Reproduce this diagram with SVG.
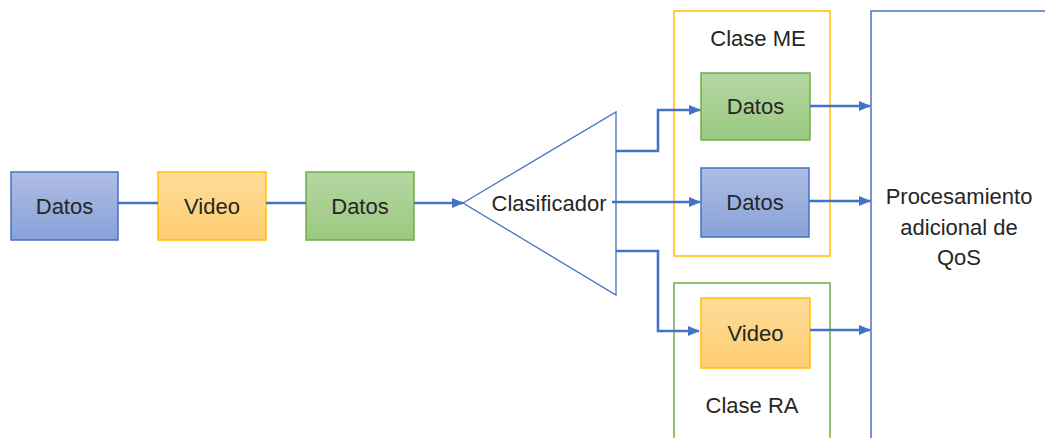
<svg xmlns="http://www.w3.org/2000/svg" width="1045" height="438" viewBox="0 0 1045 438">
<defs>
<linearGradient id="gBlue" x1="0" y1="0" x2="0" y2="1"><stop offset="0" stop-color="#aebde3"/><stop offset="1" stop-color="#88a2d8"/></linearGradient>
<linearGradient id="gYellow" x1="0" y1="0" x2="0" y2="1"><stop offset="0" stop-color="#ffdc9a"/><stop offset="1" stop-color="#fdcd6f"/></linearGradient>
<linearGradient id="gGreen" x1="0" y1="0" x2="0" y2="1"><stop offset="0" stop-color="#b5d6a3"/><stop offset="1" stop-color="#9bc980"/></linearGradient>
<marker id="arr" markerUnits="userSpaceOnUse" markerWidth="12" markerHeight="12" viewBox="0 0 12 12" refX="11" refY="6" orient="auto">
<path d="M0,1 L12,6 L0,11 Z" fill="#4472c4"/>
</marker>
<style>
.blue{fill:url(#gBlue);stroke:#4472c4;stroke-width:1.5}
.yellow{fill:url(#gYellow);stroke:#ffc000;stroke-width:1.5}
.green{fill:url(#gGreen);stroke:#70ad47;stroke-width:1.5}
.t{font-family:"Liberation Sans",Arial,sans-serif;font-size:22px;fill:#262626;text-anchor:middle;dominant-baseline:central}
.c{fill:none;stroke:#4472c4;stroke-width:2.6}
</style>
</defs>
<g id="clase-me"><rect x="674" y="11" width="156" height="245" fill="none" stroke="#ffc000" stroke-width="1.5"/><text class="t" x="758" y="38">Clase ME</text></g>
<g id="clase-ra"><rect x="674" y="283" width="156" height="170" fill="none" stroke="#70ad47" stroke-width="1.5"/><text class="t" x="752" y="405">Clase RA</text></g>
<g id="qos"><rect x="871" y="11" width="190" height="440" fill="none" stroke="#4472c4" stroke-width="1.5"/>
<text class="t" x="959" y="196">Procesamiento</text><text class="t" x="959" y="227">adicional de</text><text class="t" x="959" y="257">QoS</text></g>
<g id="n1"><rect class="blue" x="11" y="172" width="107" height="68"/><text class="t" x="64.5" y="206">Datos</text></g>
<g id="n2"><rect class="yellow" x="158" y="172" width="108" height="68"/><text class="t" x="212" y="206">Video</text></g>
<g id="n3"><rect class="green" x="306" y="172" width="108" height="68"/><text class="t" x="360" y="206">Datos</text></g>
<g id="clasificador"><polygon points="463,203 616,112 616,295" fill="none" stroke="#4472c4" stroke-width="1.3"/><text class="t" x="549" y="203">Clasificador</text></g>
<g id="me-datos1"><rect class="green" x="701" y="73" width="109" height="67"/><text class="t" x="755.5" y="106">Datos</text></g>
<g id="me-datos2"><rect class="blue" x="701" y="168" width="108" height="69"/><text class="t" x="755" y="202">Datos</text></g>
<g id="ra-video"><rect class="yellow" x="701" y="298" width="109" height="70"/><text class="t" x="755.5" y="333">Video</text></g>
<g id="connectors">
<path class="c" d="M118,203 H158"/>
<path class="c" d="M266,203 H306"/>
<path class="c" d="M414,203 H463" marker-end="url(#arr)"/>
<path class="c" d="M616,151 H658 V110 H700" marker-end="url(#arr)"/>
<path class="c" d="M612,202 H700" marker-end="url(#arr)"/>
<path class="c" d="M616,251 H658 V331 H699" marker-end="url(#arr)"/>
<path class="c" d="M810,106 H870" marker-end="url(#arr)"/>
<path class="c" d="M809,201 H870" marker-end="url(#arr)"/>
<path class="c" d="M810,330 H870" marker-end="url(#arr)"/>
</g>
</svg>
